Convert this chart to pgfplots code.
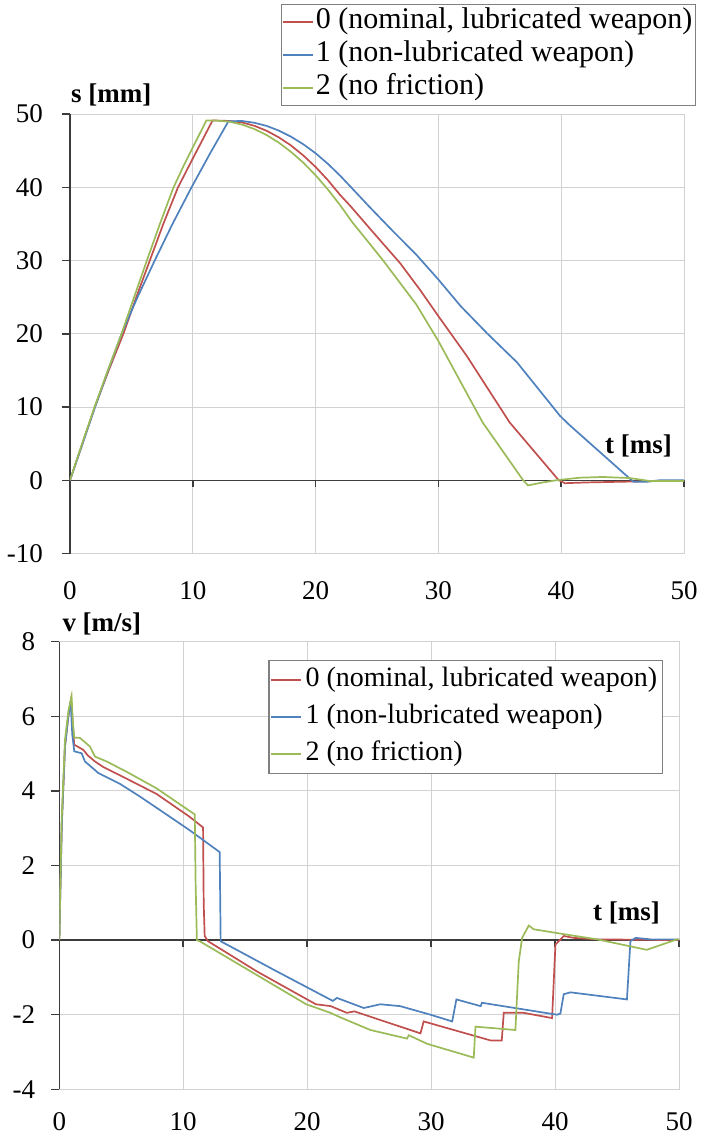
\documentclass[border=0pt]{standalone}
\usepackage{fontspec}
\setmainfont{Liberation Serif}
\usepackage{pgfplots}
\pgfplotsset{compat=1.18}
\definecolor{cred}{RGB}{192,80,77}
\definecolor{cblue}{RGB}{79,129,189}
\definecolor{cgreen}{RGB}{155,187,89}
\definecolor{gridc}{RGB}{210,210,210}
\definecolor{axc}{RGB}{60,60,60}
\definecolor{legc}{RGB}{128,128,128}

\pgfplotsset{myax/.style={
  scale only axis, xmin=0, xmax=50, xtick={0,10,...,50},
  clip mode=individual,
  grid=major, major grid style={gridc, line width=1pt},
  axis line style={gridc, line width=1pt},
  major tick length=0pt,
  tick label style={font=\fontsize{27}{32}\selectfont},
  /pgf/number format/assume math mode=true,
  legend cell align=left,
  legend image code/.code={\draw[#1, line width=1.6pt] (0pt,0pt) -- (30pt,0pt);},
  legend style={draw=legc, line width=1.2pt, fill=white,
    inner sep=1pt,
    /tikz/every even column/.append style={column sep=1pt}},
  every axis plot/.append style={line width=1.7pt, mark=none},
}}

\pgfplotstableread{
t s
0 0
1 4.9
2 9.9
3.15 15
4.35 20
5.4 25
6.5 30
7.6 35
8.8 40
9.9 43.6
10.8 46.5
11.6 49.1
12 49.1
13 49.05
14 48.85
15 48.4
16 47.72
17 46.82
18 45.7
19 44.34
20 42.77
21 40.97
22 38.94
22.8 37.5
24.4 34.4
26.9 29.6
28.5 26.0
30 22.4
32.3 17.0
35.8 7.9
39.8 0
40.3 -0.4
42 -0.3
45 -0.2
48 -0.1
50 -0.1
}\sred
\pgfplotstableread{
t s
0 0
1 4.9
2 9.8
3.1 15
4.2 20
5.5 25
6.9 30
8.35 35
9.9 40
11.4 44.6
12.9 49.0
14 49.05
15 48.81
16 48.38
17 47.74
18 46.9
19 45.87
20 44.64
21 43.2
22 41.58
23 39.8
24.4 37.3
26.3 34.0
28.2 30.8
30 27.4
31.8 23.8
34 20.0
36.4 16.1
39.9 8.8
40.7 7.5
45.6 0.2
45.9 -0.2
47 -0.2
48 0
50 0
}\sblue
\pgfplotstableread{
t s
0 0
1 5.1
2.04 10.2
3.1 15.1
4.2 20
5.2 24.9
6.24 29.9
7.3 34.9
8.41 39.9
9.3 43.1
10.2 46.1
11.1 49.1
12 49.1
13 48.94
14 48.56
15 47.96
16 47.14
17 46.1
18 44.83
19 43.35
20 41.64
21 39.7
22 37.55
23 35.2
24.4 32.3
25.5 30.0
28.2 24.0
30 19.0
33.6 7.9
36.9 0
37.3 -0.7
38.5 -0.3
39.6 0
41.5 0.35
43.4 0.45
45.6 0.3
47.2 -0.1
50 -0.1
}\sgreen

\pgfplotstableread{
t v
0 0
0.2 3.1
0.46 5.2
0.73 6.0
0.95 6.45
1.05 6.0
1.2 5.24
1.94 5.10
2.3 4.95
2.88 4.79
3.5 4.65
5 4.4
7.84 3.92
10.5 3.31
11.6 3.02
11.65 1.0
11.73 0.11
12.0 -0.03
16 -0.85
20.7 -1.72
21.9 -1.77
23.2 -1.95
23.8 -1.91
29.14 -2.5
29.4 -2.18
34.8 -2.69
35.7 -2.69
35.86 -1.95
37.47 -1.95
39.76 -2.09
40.03 -0.12
40.7 0.11
41.5 0.06
43.4 0.02
50 0
}\vred
\pgfplotstableread{
t v
0 0
0.2 3.1
0.46 5.2
0.73 6.0
0.91 6.40
1.05 5.5
1.21 5.06
1.8 5.01
2.07 4.79
3.15 4.48
4.89 4.19
6.5 3.85
8.64 3.37
10.5 2.95
12.94 2.36
13.02 -0.03
17.5 -0.83
22.07 -1.63
22.4 -1.55
24.57 -1.82
25.9 -1.72
27.5 -1.77
29.95 -2.0
31.7 -2.18
32.04 -1.59
34.0 -1.77
34.1 -1.68
40.16 -2.0
40.43 -1.97
40.7 -1.45
41.24 -1.40
45.8 -1.59
46.08 -0.03
46.5 0.06
47.7 0.02
50 0.02
}\vblue
\pgfplotstableread{
t v
0 0
0.19 3.22
0.46 5.37
0.73 6.13
0.99 6.54
1.1 5.8
1.21 5.43
1.67 5.42
2.47 5.19
2.88 4.92
3.82 4.79
5.5 4.5
7.84 4.07
10.93 3.37
11.0 1.5
11.1 0.0
11.33 -0.03
15.5 -0.85
19.92 -1.72
21.88 -1.95
22.6 -2.06
25.1 -2.41
28.06 -2.64
28.2 -2.55
29.68 -2.78
33.44 -3.15
33.58 -2.32
36.8 -2.41
37.07 -0.58
37.34 0.06
37.88 0.39
38.28 0.29
40.7 0.16
43.4 0.02
47.4 -0.26
49.84 0.02
50 0.02
}\vgreen

\begin{document}
\begin{tikzpicture}
\useasboundingbox (0,0) rectangle (701pt,-1136pt);
% ---------- top panel ----------
\begin{axis}[myax, at={(70pt,-553.5pt)}, anchor=south west,
  width=614pt, height=439.5pt, ymin=-10, ymax=50, ytick={-10,0,...,50},
  yticklabel style={inner sep=0pt, anchor=east, xshift=-27pt},
  xticklabel style={inner sep=0pt, anchor=north, yshift=-28pt},
  legend style={at={(1.0196,1.2503)}, anchor=north east,
    font=\fontsize{30}{34}\selectfont,
    nodes={text height=21pt, text depth=8pt, inner sep=2pt}}]
\draw[axc, line width=1.5pt] (axis cs:0,-10) -- (axis cs:0,50);
\draw[axc, line width=1.5pt] (axis cs:0,0) -- (axis cs:50,0);
\pgfplotsinvokeforeach{-10,0,10,20,30,40,50}{\draw[axc, line width=1.5pt] (axis cs:0,#1) -- ++(-8pt,0pt);}
\pgfplotsinvokeforeach{10,20,30,40,50}{\draw[axc, line width=1.5pt] (axis cs:#1,0) -- ++(0pt,-7pt);}
\addplot[cred] table[x=t,y=s] {\sred};
\addlegendentry{0 (nominal, lubricated weapon)}
\addplot[cblue] table[x=t,y=s] {\sblue};
\addlegendentry{1 (non-lubricated weapon)}
\addplot[cgreen] table[x=t,y=s] {\sgreen};
\addlegendentry{2 (no friction)}
\node[anchor=base west, inner sep=0pt, font=\fontsize{27}{32}\selectfont\bfseries] at (rel axis cs:0,1) [yshift=12pt, xshift=1pt] {s [mm]};
\node[anchor=base east, inner sep=0pt, font=\fontsize{27}{32}\selectfont\bfseries] at (axis cs:50,0) [yshift=27pt, xshift=-12pt] {t [ms]};
\end{axis}
% ---------- bottom panel ----------
\begin{axis}[myax, at={(59.3pt,-1089.3pt)}, anchor=south west,
  width=619.7pt, height=447.6pt, ymin=-4, ymax=8, ytick={-4,-2,...,8},
  yticklabel style={inner sep=0pt, anchor=east, xshift=-24pt},
  xticklabel style={inner sep=0pt, anchor=north, yshift=-23pt},
  legend style={at={(0.9737,0.959)}, anchor=north east,
    font=\fontsize{28}{32}\selectfont,
    nodes={text height=21pt, text depth=8pt, inner sep=4pt}}]
\draw[axc, line width=1.5pt] (axis cs:0,-4) -- (axis cs:0,8);
\draw[axc, line width=1.5pt] (axis cs:0,0) -- (axis cs:50,0);
\pgfplotsinvokeforeach{-4,-2,0,2,4,6,8}{\draw[axc, line width=1.5pt] (axis cs:0,#1) -- ++(-8pt,0pt);}
\pgfplotsinvokeforeach{10,20,30,40,50}{\draw[axc, line width=1.5pt] (axis cs:#1,0) -- ++(0pt,-7pt);}
\addplot[cred] table[x=t,y=v] {\vred};
\addlegendentry{0 (nominal, lubricated weapon)}
\addplot[cblue] table[x=t,y=v] {\vblue};
\addlegendentry{1 (non-lubricated weapon)}
\addplot[cgreen] table[x=t,y=v] {\vgreen};
\addlegendentry{2 (no friction)}
\node[anchor=base west, inner sep=0pt, font=\fontsize{27}{32}\selectfont\bfseries] at (rel axis cs:0,1) [yshift=10pt, xshift=3pt] {v [m/s]};
\node[anchor=base east, inner sep=0pt, font=\fontsize{27}{32}\selectfont\bfseries] at (axis cs:50,0) [yshift=20pt, xshift=-19pt] {t [ms]};
\end{axis}
\end{tikzpicture}
\end{document}
